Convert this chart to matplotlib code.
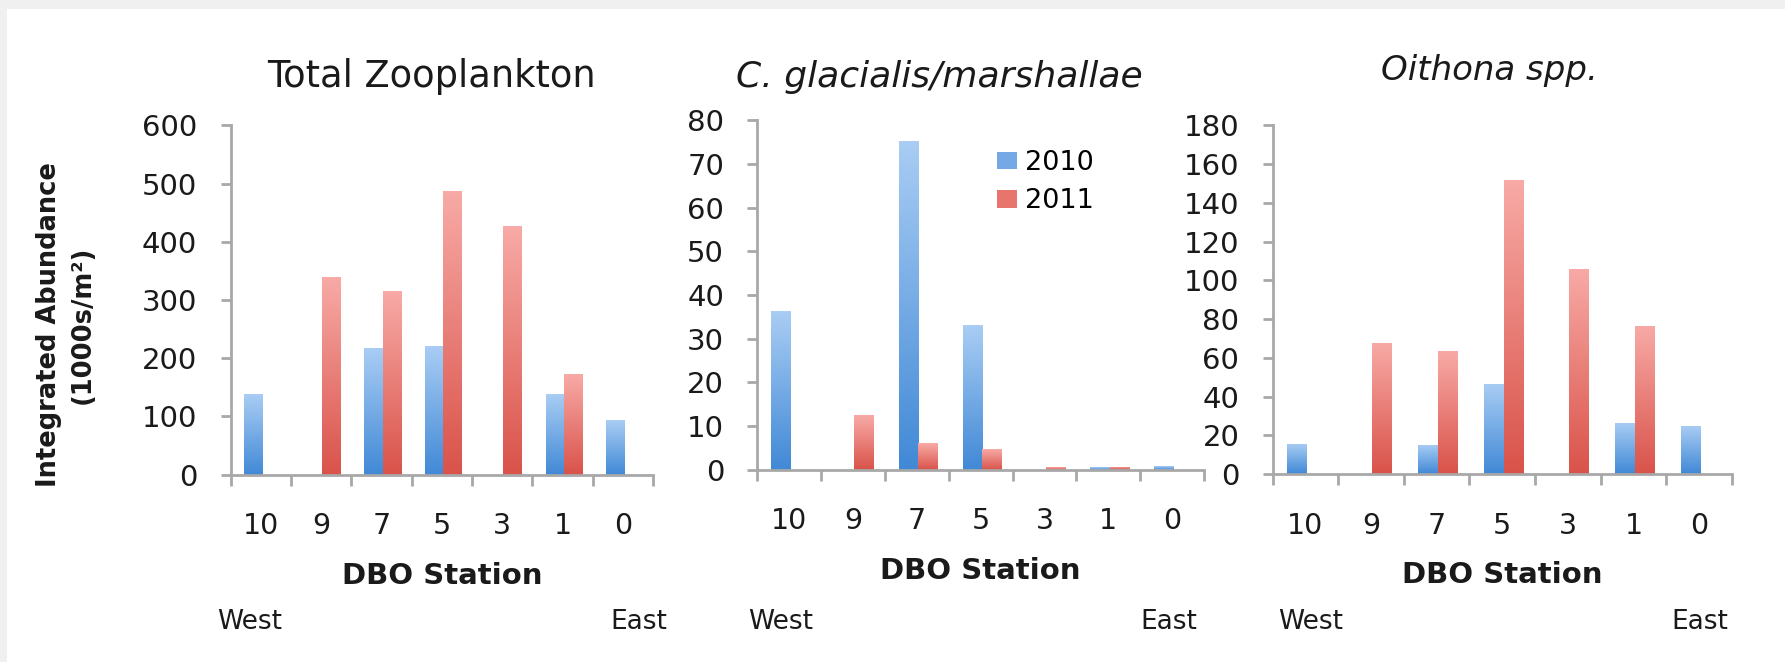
import numpy as np
import matplotlib
matplotlib.use("Agg")
import matplotlib.pyplot as plt
from matplotlib.colors import LinearSegmentedColormap
from matplotlib.patches import Rectangle

W, H = 1785, 662

stations = ["10", "9", "7", "5", "3", "1", "0"]
years = ["2010", "2011"]

total_2010 = [139, 0, 217, 221, 0, 139, 93]
total_2011 = [0, 339, 315, 488, 427, 173, 0]

glacialis_2010 = [36.4, 0, 75.3, 33.1, 0, 0.5, 0.8]
glacialis_2011 = [0, 12.5, 6.0, 4.8, 0.6, 0.7, 0]

oithona_2010 = [15.7, 0, 15.2, 46.5, 0, 26.5, 25]
oithona_2011 = [0, 67.8, 63.7, 152, 106, 76.5, 0]

titles = ["Total Zooplankton", "C. glacialis/marshallae", "Oithona spp."]
title_styles = ["normal", "italic", "italic"]
title_sizes = [26.5, 26, 24.5]
y_max = [600, 80, 180]
y_step = [100, 10, 20]

BLUE_TOP, BLUE_BOTTOM = "#a9cdf4", "#4189d6"
RED_TOP, RED_BOTTOM = "#f8aaa6", "#d9534a"
AXIS_GREY = "#a8a8a8"
TEXT = "#1a1a1a"


def px(x, y):
    # pixel position (from top-left) -> figure fraction
    return x / W, 1 - y / H


def gradient_fill(ax, bars, top, bottom):
    cmap = LinearSegmentedColormap.from_list("", [bottom, top])
    grad = np.linspace(0, 1, 128).reshape(-1, 1)
    for bar in bars:
        h = bar.get_height()
        if h <= 0:
            continue
        x0, y0 = bar.get_xy()
        im = ax.imshow(grad, extent=[x0, x0 + bar.get_width(), y0, y0 + h],
                       origin="lower", cmap=cmap, aspect="auto",
                       zorder=bar.get_zorder() + 0.1, interpolation="bilinear")
        im.set_clip_path(bar)


fig = plt.figure(figsize=(W / 100, H / 100), dpi=100)
fig.patch.set_facecolor("#f0f0f0")
fig.add_artist(Rectangle(px(7, H), 1 - 7 / W, 1 - 9 / H, transform=fig.transFigure,
                         facecolor="white", edgecolor="none", zorder=-5))

# axes boxes in pixels: left, right, top, bottom
boxes = [(230.5, 653, 125.4, 474.5), (757.4, 1204, 120.4, 469.6), (1272.6, 1732, 125.4, 474)]
series = [(total_2010, total_2011), (glacialis_2010, glacialis_2011), (oithona_2010, oithona_2011)]
title_pos = [(431, 87), (939, 87), (1489, 80)]
xlabel_y = [576, 571, 575]
west_x = [217, 748, 1278]
east_x = [667, 1197, 1728]

x = np.arange(len(stations))
width = 0.3

for i in range(3):
    l, r, t, b = boxes[i]
    ax = fig.add_axes([l / W, 1 - b / H, (r - l) / W, (b - t) / H])
    ax.set_facecolor("none")
    v2010, v2011 = series[i]
    bars1 = ax.bar(x - width / 2 + 0.02, v2010, width, color="#74a9e6", linewidth=0, label=years[0])
    bars2 = ax.bar(x + width / 2 + 0.02, v2011, width, color="#e8756d", linewidth=0, label=years[1])
    gradient_fill(ax, bars1, BLUE_TOP, BLUE_BOTTOM)
    gradient_fill(ax, bars2, RED_TOP, RED_BOTTOM)

    ax.set_xlim(-0.5, len(stations) - 0.5)
    ax.set_ylim(0, y_max[i])
    ax.set_yticks(np.arange(0, y_max[i] + 1, y_step[i]))
    ax.set_xticks(x)
    ax.set_xticklabels(stations)
    ax.set_xticks(np.arange(-0.5, len(stations)), minor=True)

    for side in ["top", "right"]:
        ax.spines[side].set_visible(False)
    for side in ["left", "bottom"]:
        ax.spines[side].set_color(AXIS_GREY)
        ax.spines[side].set_linewidth(2)

    ax.tick_params(axis="x", which="major", length=0, pad=27, labelsize=20.5, labelcolor=TEXT)
    ax.tick_params(axis="x", which="minor", length=8, width=2, color=AXIS_GREY, direction="out")
    ax.tick_params(axis="y", length=7, width=2, color=AXIS_GREY, pad=17, labelsize=21, labelcolor=TEXT)

    fig.text(*px(*title_pos[i]), titles[i], ha="center", va="baseline", fontsize=title_sizes[i],
             style=title_styles[i], color=TEXT)
    fig.text(*px((l + r) / 2, xlabel_y[i]), "DBO Station", ha="center", va="center",
             fontsize=21, fontweight="bold", color=TEXT)
    fig.text(*px(west_x[i], 622), "West", ha="left", va="center", fontsize=19, color=TEXT)
    fig.text(*px(east_x[i], 622), "East", ha="right", va="center", fontsize=19, color=TEXT)

    if i == 1:
        ax.legend(loc="upper left", bbox_to_anchor=((997 - l) / (r - l), (b - 150) / (b - t)),
                  frameon=False, fontsize=19.5, borderpad=0, borderaxespad=0,
                  handlelength=0.74, handleheight=0.63, handletextpad=0.3, labelspacing=0.45)

fig.text(*px(66, 325), "Integrated Abundance\n(1000s/m\u00b2)", rotation=90, ha="center",
         va="center", multialignment="center", fontsize=18.5, fontweight="bold",
         linespacing=1.4, color=TEXT)

fig.savefig("out.png", dpi=100, facecolor=fig.get_facecolor())
